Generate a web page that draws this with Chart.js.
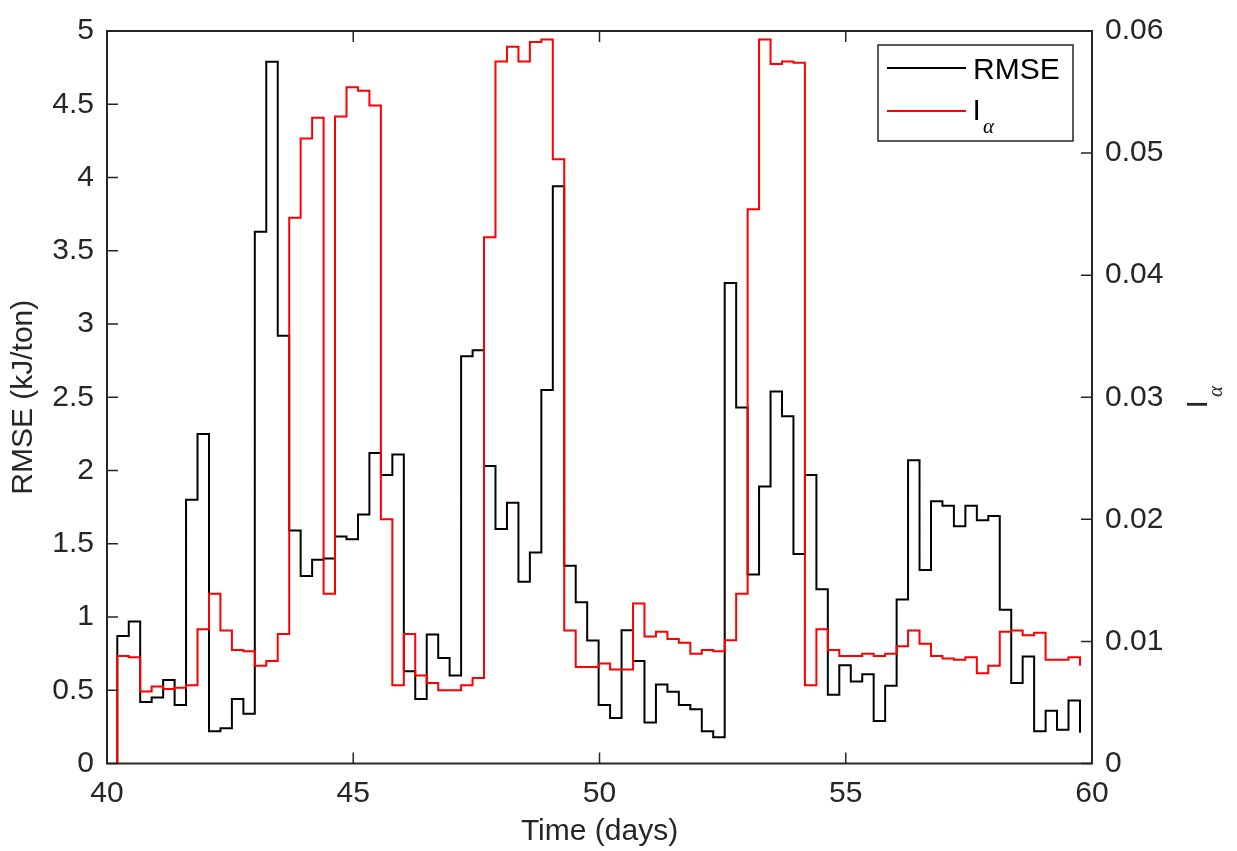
<!DOCTYPE html>
<html>
<head>
<meta charset="utf-8">
<script src="https://cdn.jsdelivr.net/npm/chart.js@4.4.1/dist/chart.umd.min.js"></script>
<style>
  html, body { margin: 0; padding: 0; background: #ffffff; }
  canvas { display: block; }
</style>
</head>
<body>
<canvas id="chart" width="1237" height="851"></canvas>
<script>
// step edges (days); step k runs from stepEdges[k] to stepEdges[k+1]
const stepEdges = [
  40.209, 40.442, 40.674, 40.907, 41.140, 41.373, 41.605, 41.838, 42.071, 42.303,
  42.536, 42.769, 43.001, 43.234, 43.467, 43.700, 43.932, 44.165, 44.398, 44.630,
  44.863, 45.096, 45.328, 45.561, 45.794, 46.027, 46.259, 46.492, 46.725, 46.957,
  47.190, 47.423, 47.655, 47.888, 48.121, 48.354, 48.586, 48.819, 49.052, 49.284,
  49.517, 49.750, 49.982, 50.215, 50.448, 50.681, 50.913, 51.146, 51.379, 51.611,
  51.844, 52.077, 52.309, 52.542, 52.775, 53.008, 53.240, 53.473, 53.706, 53.938,
  54.171, 54.404, 54.636, 54.869, 55.102, 55.335, 55.567, 55.800, 56.033, 56.265,
  56.498, 56.731, 56.963, 57.196, 57.429, 57.662, 57.894, 58.127, 58.360, 58.592,
  58.825, 59.058, 59.290, 59.523, 59.756
];

// RMSE (kJ/ton), one value per step
const rmseValues = [
  0.87, 0.97, 0.42, 0.45, 0.57, 0.40, 1.80, 2.25, 0.22, 0.24,
  0.44, 0.34, 3.63, 4.79, 2.92, 1.59, 1.28, 1.39, 1.40, 1.55,
  1.53, 1.70, 2.12, 1.97, 2.11, 0.63, 0.44, 0.88, 0.72, 0.60,
  2.78, 2.82, 2.03, 1.60, 1.78, 1.24, 1.44, 2.55, 3.94, 1.35,
  1.10, 0.84, 0.40, 0.31, 0.91, 0.70, 0.28, 0.54, 0.49, 0.40,
  0.37, 0.22, 0.18, 3.28, 2.43, 1.29, 1.89, 2.54, 2.37, 1.43,
  1.97, 1.19, 0.47, 0.67, 0.56, 0.61, 0.29, 0.53, 1.12, 2.07,
  1.32, 1.79, 1.76, 1.62, 1.76, 1.66, 1.69, 1.05, 0.55, 0.73,
  0.22, 0.36, 0.23, 0.43
];
const rmseStart = 0;
const rmseEnd = 0.21;

// I_alpha, one value per step
const ialphaValues = [
  0.0088, 0.0087, 0.0059, 0.0063, 0.0061, 0.0062, 0.0064, 0.0110, 0.0139, 0.0109,
  0.0093, 0.0092, 0.0080, 0.0084, 0.0106, 0.0447, 0.0512, 0.0529, 0.0139, 0.0530,
  0.0554, 0.0551, 0.0539, 0.0200, 0.0064, 0.0106, 0.0072, 0.0066, 0.0060, 0.0060,
  0.0064, 0.0070, 0.0431, 0.0575, 0.0587, 0.0575, 0.0591, 0.0593, 0.0495, 0.0109,
  0.0079, 0.0079, 0.0082, 0.0077, 0.0077, 0.0131, 0.0104, 0.0108, 0.0102, 0.0099,
  0.0090, 0.0093, 0.0092, 0.0101, 0.0139, 0.0454, 0.0593, 0.0573, 0.0575, 0.0574,
  0.0064, 0.0110, 0.0093, 0.0088, 0.0088, 0.0090, 0.0088, 0.0090, 0.0096, 0.0109,
  0.0098, 0.0088, 0.0086, 0.0085, 0.0087, 0.0074, 0.0080, 0.0108, 0.0109, 0.0105,
  0.0107, 0.0085, 0.0085, 0.0087
];
const ialphaStart = 0;
const ialphaEnd = 0.0080;

// axis ticks
const xTickValues = [40, 45, 50, 55, 60];
const xTickLabels = ['40', '45', '50', '55', '60'];
const leftTickValues = [0, 0.5, 1, 1.5, 2, 2.5, 3, 3.5, 4, 4.5, 5];
const leftTickLabels = ['0', '0.5', '1', '1.5', '2', '2.5', '3', '3.5', '4', '4.5', '5'];
const rightTickValues = [0, 0.01, 0.02, 0.03, 0.04, 0.05, 0.06];
const rightTickLabels = ['0', '0.01', '0.02', '0.03', '0.04', '0.05', '0.06'];

const AXIS_COLOR = '#262626';
const FONT_FAMILY = '"Liberation Sans", Arial, Helvetica, sans-serif';

// stepped 'after': vertical at the left edge, then horizontal to the right edge
function stairs(start, values, end) {
  const pts = [{ x: stepEdges[0], y: start }];
  values.forEach((v, i) => pts.push({ x: stepEdges[i + 1], y: v }));
  pts.push({ x: stepEdges[stepEdges.length - 1], y: end });
  return pts;
}

// frame, inward ticks, right axis title and legend
const framePlugin = {
  id: 'frame',
  afterDraw(chart) {
    const ctx = chart.ctx;
    const a = chart.chartArea;
    const sx = chart.scales.x, sy = chart.scales.y, sy1 = chart.scales.y1;
    const tick = 11;
    ctx.save();
    ctx.strokeStyle = AXIS_COLOR;
    ctx.lineWidth = 1.5;
    ctx.beginPath();
    xTickValues.forEach(v => {
      const px = sx.getPixelForValue(v);
      ctx.moveTo(px, a.bottom); ctx.lineTo(px, a.bottom - tick);
      ctx.moveTo(px, a.top); ctx.lineTo(px, a.top + tick);
    });
    leftTickValues.forEach(v => {
      const py = sy.getPixelForValue(v);
      ctx.moveTo(a.left, py); ctx.lineTo(a.left + tick, py);
    });
    rightTickValues.forEach(v => {
      const py = sy1.getPixelForValue(v);
      ctx.moveTo(a.right, py); ctx.lineTo(a.right - tick, py);
    });
    ctx.stroke();
    ctx.lineWidth = 2;
    ctx.strokeRect(a.left, a.top, a.right - a.left, a.bottom - a.top);

    // right axis title: I with subscript alpha, rotated
    ctx.fillStyle = AXIS_COLOR;
    ctx.translate(1207, 406);
    ctx.rotate(-Math.PI / 2);
    ctx.textBaseline = 'alphabetic';
    ctx.textAlign = 'left';
    ctx.font = '30px ' + FONT_FAMILY;
    ctx.fillText('I', -2.5, 0);
    ctx.font = 'italic 21px "Liberation Serif", "Times New Roman", serif';
    ctx.fillText('\u03B1', 9, 15);
    ctx.restore();

    // legend
    ctx.save();
    ctx.fillStyle = '#ffffff';
    ctx.fillRect(878, 45, 195, 96);
    ctx.strokeStyle = AXIS_COLOR;
    ctx.lineWidth = 1.5;
    ctx.strokeRect(878, 45, 195, 96);
    ctx.lineWidth = 2;
    ctx.strokeStyle = '#000000';
    ctx.beginPath(); ctx.moveTo(887, 68); ctx.lineTo(966, 68); ctx.stroke();
    ctx.strokeStyle = '#ff0000';
    ctx.beginPath(); ctx.moveTo(887, 111); ctx.lineTo(966, 111); ctx.stroke();
    ctx.fillStyle = '#000000';
    ctx.textBaseline = 'alphabetic';
    ctx.textAlign = 'left';
    ctx.font = '30px ' + FONT_FAMILY;
    ctx.fillText('RMSE', 973, 79);
    ctx.fillText('I', 972.5, 119.5);
    ctx.font = 'italic 21px "Liberation Serif", "Times New Roman", serif';
    ctx.fillText('\u03B1', 983, 133);
    ctx.restore();
  }
};

const tickFont = { family: FONT_FAMILY, size: 30 };

new Chart(document.getElementById('chart').getContext('2d'), {
  type: 'line',
  data: {
    datasets: [
      {
        label: 'RMSE',
        data: stairs(rmseStart, rmseValues, rmseEnd),
        yAxisID: 'y',
        borderColor: '#000000',
        borderWidth: 2,
        stepped: 'after',
        pointRadius: 0,
        fill: false,
        order: 1
      },
      {
        label: 'I\u03B1',
        data: stairs(ialphaStart, ialphaValues, ialphaEnd),
        yAxisID: 'y1',
        borderColor: '#ff0000',
        borderWidth: 2,
        stepped: 'after',
        pointRadius: 0,
        fill: false,
        order: 0
      }
    ]
  },
  options: {
    responsive: false,
    devicePixelRatio: 1,
    animation: false,
    layout: { padding: { left: 0, right: 0, top: 23.5, bottom: 0 } },
    plugins: {
      legend: { display: false },
      tooltip: { enabled: false }
    },
    scales: {
      x: {
        type: 'linear',
        position: 'bottom',
        min: 40,
        max: 60,
        afterFit: s => { s.height = 87.5; },
        afterBuildTicks: s => { s.ticks = xTickValues.map(v => ({ value: v })); },
        grid: { display: false, drawTicks: false },
        border: { display: false },
        ticks: {
          callback: (v, i) => xTickLabels[i],
          font: tickFont,
          color: AXIS_COLOR,
          padding: 12,
          maxRotation: 0,
          autoSkip: false
        },
        title: {
          display: true,
          text: 'Time (days)',
          font: tickFont,
          color: AXIS_COLOR,
          padding: { top: 0, bottom: 1 }
        }
      },
      y: {
        position: 'left',
        min: 0,
        max: 5,
        afterFit: s => { s.width = 107; },
        afterBuildTicks: s => { s.ticks = leftTickValues.map(v => ({ value: v })); },
        grid: { display: false, drawTicks: false },
        border: { display: false },
        ticks: {
          callback: (v, i) => leftTickLabels[i],
          font: tickFont,
          color: AXIS_COLOR,
          padding: 13
        },
        title: {
          display: true,
          text: 'RMSE (kJ/ton)',
          font: tickFont,
          color: AXIS_COLOR,
          padding: { top: 6, bottom: 0 }
        }
      },
      y1: {
        position: 'right',
        min: 0,
        max: 0.06,
        afterFit: s => { s.width = 145; },
        afterBuildTicks: s => { s.ticks = rightTickValues.map(v => ({ value: v })); },
        grid: { display: false, drawTicks: false },
        border: { display: false },
        ticks: {
          callback: (v, i) => rightTickLabels[i],
          font: tickFont,
          color: AXIS_COLOR,
          padding: 13
        }
      }
    }
  },
  plugins: [framePlugin]
});
</script>
</body>
</html>
